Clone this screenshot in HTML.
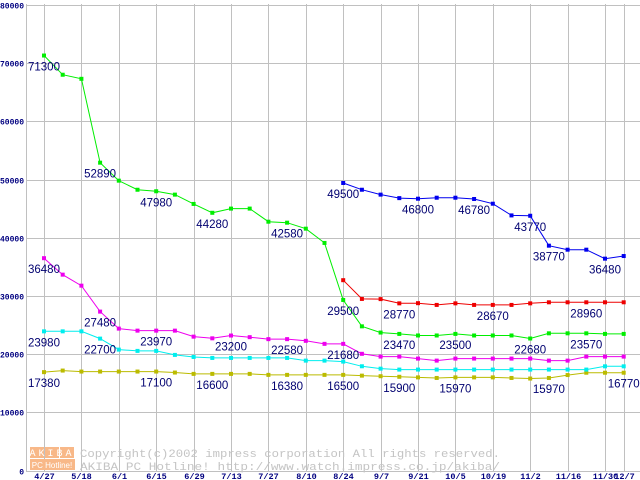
<!DOCTYPE html>
<html><head><meta charset="utf-8"><style>
html,body{margin:0;padding:0;background:#fff;}
svg{display:block;font-family:"Liberation Sans",sans-serif;}
</style></head><body>
<svg id="chart" width="640" height="480" viewBox="0 0 640 480" xmlns="http://www.w3.org/2000/svg">
<g id="grid"></g>
<g id="axes"></g>
<g id="watermark">
  <rect x="30" y="447" width="14" height="11" fill="#f8b888"/>
  <rect x="45" y="447" width="14" height="11" fill="#f8b888"/>
  <rect x="60" y="447" width="14" height="11" fill="#f8b888"/>
  <text x="52" y="456" font-size="10" fill="#fff" text-anchor="middle" font-family="Liberation Mono,monospace" letter-spacing="3">AKIBA</text>
  <rect x="30" y="459" width="45" height="11" fill="#f8b888"/>
  <text x="52" y="468" font-size="8" fill="#fff" text-anchor="middle">PC Hotline!</text>
  <text x="80" y="457" font-size="11" fill="#c4c4c4" font-family="Liberation Mono,monospace" textLength="420" lengthAdjust="spacingAndGlyphs">Copyright(c)2002 impress corporation All rights reserved.</text>
  <text x="80" y="470" font-size="11" fill="#c4c4c4" font-family="Liberation Mono,monospace" textLength="420" lengthAdjust="spacingAndGlyphs">AKIBA PC Hotline!  http://www.watch.impress.co.jp/akiba/</text>
</g>
<g id="series"></g>
<g id="labels"></g>
</svg>
<script>
const xLabels = ["4/27","5/18","6/1","6/15","6/29","7/13","7/27","8/10","8/24","9/7","9/21","10/5","10/19","11/2","11/16","11/30","12/7"];
const xLabelIdx = [0,2,4,6,8,10,12,14,16,18,20,22,24,26,28,30,31];
const yTicks = [0,10000,20000,30000,40000,50000,60000,70000,80000];
const greenVals = [71300,68000,67300,52890,49800,48240,47980,47400,45800,44280,45000,45000,42750,42580,41550,39100,29300,24770,23700,23470,23200,23200,23470,23200,23200,23200,22680,23570,23570,23570,23470,23470];
const blueVals = [null,null,null,null,null,null,null,null,null,null,null,null,null,null,null,null,49400,48240,47400,46800,46700,46870,46870,46650,45840,43830,43770,38630,37940,37940,36400,36850];
const redVals = [null,null,null,null,null,null,null,null,null,null,null,null,null,null,null,null,32700,29480,29450,28720,28750,28450,28720,28450,28450,28450,28720,28900,28900,28900,28900,28900];
const magentaVals = [36480,33650,31760,27300,24380,24030,24030,24030,23000,22710,23190,22910,22570,22570,22280,21760,21760,20050,19570,19570,19230,18880,19230,19230,19230,19230,19230,18880,18880,19570,19570,19570];
const cyanVals = [23910,23910,23910,22660,20770,20550,20550,19860,19510,19340,19340,19340,19340,19340,18880,18880,18710,17910,17500,17340,17340,17340,17340,17340,17340,17340,17340,17340,17340,17340,17900,17900];
const yellowVals = [16900,17170,17000,17000,17000,17000,17000,16830,16600,16600,16600,16600,16430,16430,16430,16430,16430,16300,16200,16100,16000,15900,16000,16000,16000,15900,15800,15900,16400,16800,16800,16800];
const labelSeries = ["green","green","green","green","green","green","green","blue","blue","blue","blue","blue","blue","red","red","red","green","green","green","green","magenta","magenta","magenta","magenta","magenta","magenta","magenta","cyan","cyan","yellow","yellow","yellow","yellow","yellow","yellow","yellow","yellow","yellow"];
const labelIdx = [0,3,6,9,13,16,16,16,20,23,26,27,30,19,24,29,19,22,26,29,0,3,6,10,13,16,16,0,3,0,6,9,13,16,19,22,27,31];
const labelText = ["71300","52890","47980","44280","42580","29500","","49500","46800","46780","43770","38770","36480","28770","28670","28960","23470","23500","22680","23570","36480","27480","23970","23200","22580","21680","","23980","22700","17380","17100","16600","16380","16500","15900","15970","15970","16770"];

const NS="http://www.w3.org/2000/svg";
const X0=44, DX=18.7, Y0=470.5, SY=58.2/10000, LEFT=26;
const xPos = i => X0 + DX*i;
const yPos = v => Y0 - v*SY;
function mk(tag, attrs, parent){const e=document.createElementNS(NS,tag);for(const k in attrs)e.setAttribute(k,attrs[k]);parent.appendChild(e);return e;}
const grid=document.getElementById('grid'), axes=document.getElementById('axes'), ser=document.getElementById('series'), lab=document.getElementById('labels');

yTicks.forEach(t=>{
  const y=Math.round(yPos(t))+0.5;
  const l=mk('line',{x1:LEFT,x2:640,y1:y,y2:y,stroke:'#c0c0c0','stroke-width':1},grid);
  
  
  const tx=mk('text',{x:24,y:y+3,'font-size':8,'font-weight':'bold',fill:'#000080','text-anchor':'end','font-family':'Liberation Mono,monospace'},axes);
  tx.textContent=t;
  
  
});
const al=mk('line',{x1:LEFT+0.5,x2:LEFT+0.5,y1:4,y2:471,stroke:'#c0c0c0','stroke-width':1},grid);


xLabels.forEach((s,k)=>{
  const x=Math.round(xPos(xLabelIdx[k]))+0.5;
  const l=mk('line',{x1:x,x2:x,y1:4,y2:471,stroke:'#c0c0c0','stroke-width':1},grid);
  
  
  const tx=mk('text',{x:x,y:479,'font-size':8.5,'font-weight':'bold',fill:'#000080','text-anchor':'middle','font-family':'Liberation Mono,monospace'},axes);
  tx.textContent=s;
  
  
});

const seriesMap={green:[greenVals,'#00ee00'],blue:[blueVals,'#0000ee'],red:[redVals,'#ee0000'],magenta:[magentaVals,'#ee00ee'],cyan:[cyanVals,'#00eeee'],yellow:[yellowVals,'#bbbb00']};
['yellow','cyan','magenta','green','red','blue'].forEach(name=>{
  const [vals,col]=seriesMap[name];
  const g=mk('g',{},ser);
  
  
  let pts=[];
  vals.forEach((v,i)=>{if(v!==null)pts.push(xPos(i).toFixed(1)+','+yPos(v).toFixed(1));});
  const pl=mk('polyline',{points:pts.join(' '),fill:'none',stroke:col,'stroke-width':1},g);
  
  
  vals.forEach((v,i)=>{if(v===null)return;
    const r=mk('rect',{x:xPos(i)-2,y:yPos(v)-2,width:4,height:4,fill:col},g);
    
    
  });
});
labelText.forEach((s,k)=>{
  if(!s)return;
  const vals=seriesMap[labelSeries[k]][0];
  const i=labelIdx[k];
  const tx=mk('text',{x:xPos(i),y:yPos(vals[i])+15,'font-size':11.5,fill:'#000070','text-anchor':'middle'},lab);
  tx.textContent=s;
  
  
});
</script>
</body></html>
